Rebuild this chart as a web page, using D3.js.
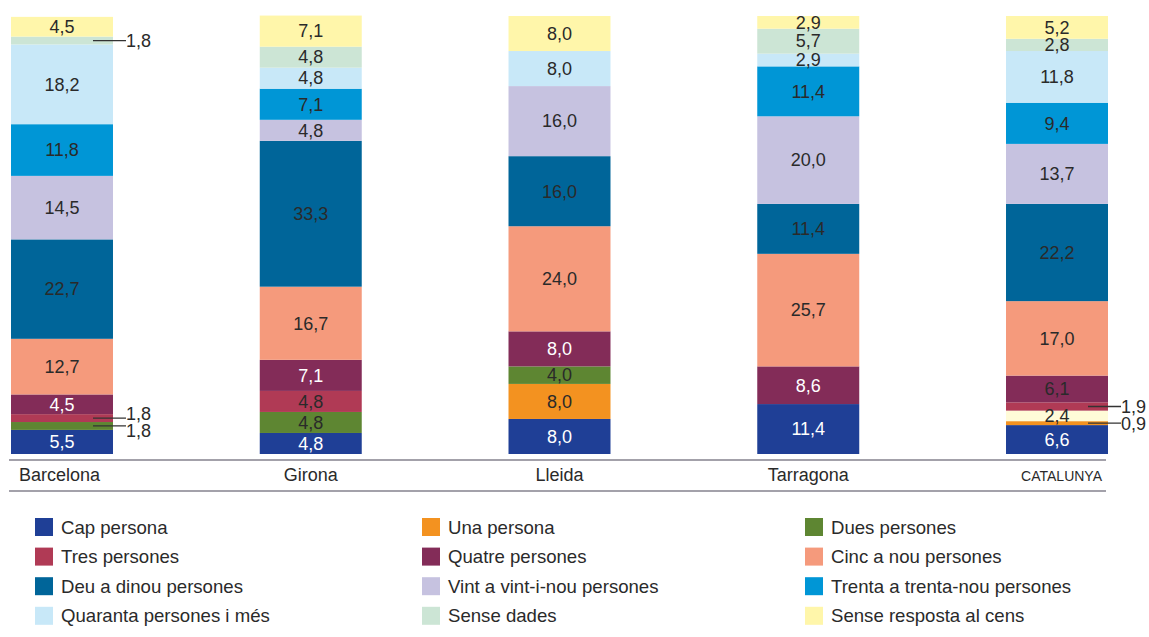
<!DOCTYPE html>
<html>
<head>
<meta charset="utf-8">
<script src="https://cdn.jsdelivr.net/npm/d3@7"></script>
<style>
  body { margin: 0; background: #fff; }
  svg { display: block; font-family: "Liberation Sans", Arial, sans-serif; }
</style>
</head>
<body>
<svg width="1149" height="637"></svg>
<script>
const width = 1149;
const height = 637;

const categories = ["Barcelona", "Girona", "Lleida", "Tarragona", "CATALUNYA"];

const seriesNames = [
  "Cap persona", "Una persona", "Dues persones",
  "Tres persones", "Quatre persones", "Cinc a nou persones",
  "Deu a dinou persones", "Vint a vint-i-nou persones", "Trenta a trenta-nou persones",
  "Quaranta persones i més", "Sense dades", "Sense resposta al cens"
];

const seriesColors = [
  "#1f3f96", "#f39220", "#5e8632",
  "#b03a55", "#832c58", "#f59a7c",
  "#006599", "#c6c2e0", "#0096d6",
  "#c8e8f8", "#cce5d5", "#fff6aa"
];

// one array per series, in the order of categories (percentages)
const capPersona     = [5.5, 4.8, 8.0, 11.4, 6.6];
const unaPersona     = [0,   0,   8.0, 0,    0.9];
const duesPersones   = [1.8, 4.8, 4.0, 0,    2.4];
const tresPersones   = [1.8, 4.8, 0,   0,    1.9];
const quatrePersones = [4.5, 7.1, 8.0, 8.6,  6.1];
const cincANou       = [12.7, 16.7, 24.0, 25.7, 17.0];
const deuADinou      = [22.7, 33.3, 16.0, 11.4, 22.2];
const vintAVintINou  = [14.5, 4.8, 16.0, 20.0, 13.7];
const trentaATrenta  = [11.8, 7.1, 0,   11.4, 9.4];
const quarantaIMes   = [18.2, 4.8, 8.0, 2.9,  11.8];
const senseDades     = [1.8, 4.8, 0,   5.7,  2.8];
const senseResposta  = [4.5, 7.1, 8.0, 2.9,  5.2];

const seriesValues = [
  capPersona, unaPersona, duesPersones, tresPersones, quatrePersones, cincANou,
  deuADinou, vintAVintINou, trentaATrenta, quarantaIMes, senseDades, senseResposta
];

// the original colours the Catalunya "Dues persones" cell pale cream
const fillOverride = { "CATALUNYA|Dues persones": "#fffbd8" };
const whiteText = new Set(["Cap persona", "Quatre persones"]);
const darkTextOverride = new Set(["CATALUNYA|Quatre persones"]);

const table = categories.map((c, i) => {
  const row = { category: c };
  seriesNames.forEach((s, j) => row[s] = seriesValues[j][i]);
  return row;
});

const svg = d3.select("svg");

const x = d3.scaleBand()
  .domain(categories)
  .range([11, 1108])
  .paddingInner(0.59)
  .paddingOuter(0);

const y = d3.scaleLinear().domain([0, 100]).range([454, 16]);

const stack = d3.stack().keys(seriesNames);
const stacked = stack(table);

const fmt = v => d3.format(".1f")(v).replace(".", ",");

const layers = svg.append("g").selectAll("g")
  .data(stacked)
  .join("g");

layers.selectAll("rect")
  .data(d => d.map(p => ({ key: d.key, idx: d.index, p })))
  .join("rect")
  .attr("x", d => x(d.p.data.category))
  .attr("width", x.bandwidth())
  .attr("y", d => y(d.p[1]))
  .attr("height", d => y(d.p[0]) - y(d.p[1]))
  .attr("fill", d => fillOverride[d.p.data.category + "|" + d.key] || seriesColors[d.idx]);

// labels
const textDark = "#2a2a2a";
const labelG = svg.append("g").style("font-size", "18px");
const callouts = [];

stacked.forEach(layer => {
  layer.forEach(p => {
    const val = p.data[layer.key];
    if (!val) return;
    const cat = p.data.category;
    const cy = (y(p[0]) + y(p[1])) / 2;
    if (val < 2) {
      callouts.push({ cat, cy, ty: cy, val });
      return;
    }
    const white = whiteText.has(layer.key) && !darkTextOverride.has(cat + "|" + layer.key);
    labelG.append("text")
      .attr("x", x(cat) + x.bandwidth() / 2)
      .attr("y", cy)
      .attr("dy", "0.35em")
      .attr("text-anchor", "middle")
      .attr("fill", white ? "#ffffff" : textDark)
      .text(fmt(val));
  });
});

// spread callout labels that would overlap
categories.forEach(cat => {
  const list = callouts.filter(c => c.cat === cat).sort((a, b) => a.cy - b.cy);
  for (let i = 1; i < list.length; i++) {
    const gap = list[i].ty - list[i - 1].ty;
    if (gap < 17) {
      const push = (17 - gap) / 2;
      list[i - 1].ty -= push;
      list[i].ty += push;
    }
  }
});

callouts.forEach(c => {
  const right = x(c.cat) + x.bandwidth();
  labelG.append("line")
    .attr("x1", right - 20).attr("x2", right + 13)
    .attr("y1", c.cy).attr("y2", c.cy)
    .attr("stroke", "#333").attr("stroke-width", 1.3);
  labelG.append("text")
    .attr("x", right + 13)
    .attr("y", c.ty)
    .attr("dy", "0.35em")
    .attr("fill", textDark)
    .text(fmt(c.val));
});

// axis rules
[460, 491].forEach(ly => {
  svg.append("line")
    .attr("x1", 9).attr("x2", 1106)
    .attr("y1", ly).attr("y2", ly)
    .attr("stroke", "#a3a1aa").attr("stroke-width", 2);
});

// category labels
svg.append("g").selectAll("text")
  .data(categories)
  .join("text")
  .attr("x", (d, i) => i === 0 ? x(d) + 8 : i === categories.length - 1 ? x(d) + x.bandwidth() - 6 : x(d) + x.bandwidth() / 2)
  .attr("y", 481)
  .attr("text-anchor", (d, i) => i === 0 ? "start" : i === categories.length - 1 ? "end" : "middle")
  .style("font-size", (d, i) => i === categories.length - 1 ? "14px" : "18px")
  .attr("fill", textDark)
  .text(d => d);

// legend
const legendCols = [35, 422, 805];
const legend = svg.append("g").selectAll("g")
  .data(seriesNames)
  .join("g")
  .attr("transform", (d, i) => `translate(${legendCols[i % 3]},${518 + Math.floor(i / 3) * 29.6})`);

legend.append("rect")
  .attr("width", 18).attr("height", 18)
  .attr("fill", (d, i) => seriesColors[i]);

legend.append("text")
  .attr("x", 26).attr("y", 9)
  .attr("dy", "0.35em")
  .style("font-size", "18.6px")
  .attr("fill", textDark)
  .text(d => d);
</script>
</body>
</html>
